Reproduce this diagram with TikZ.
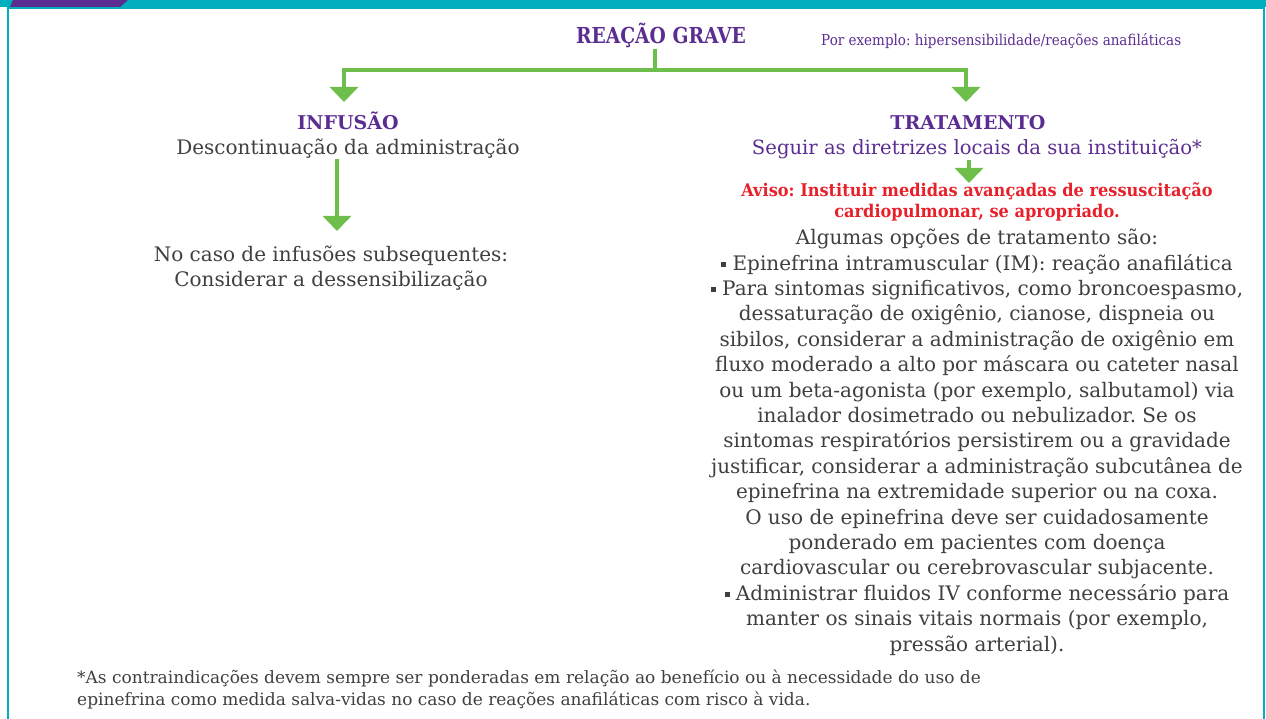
\documentclass[tikz,border=0pt]{standalone}
\usepackage{fontspec}
\usetikzlibrary{arrows.meta}
\setmainfont{DejaVu Serif}
\newfontfamily\condf[FakeStretch=0.85]{DejaVu Serif}
\newfontfamily\exf[FakeStretch=0.9]{DejaVu Serif}
\newfontfamily\warnf[FakeStretch=0.925]{DejaVu Serif}
\definecolor{pur}{HTML}{5C2D91}
\definecolor{tealc}{HTML}{00AFBE}
\definecolor{grn}{HTML}{6DBE4B}
\definecolor{redc}{HTML}{E8202A}
\definecolor{txt}{HTML}{3F3F3F}
\newcommand{\bul}{\raisebox{3.5pt}{\rule{5pt}{5pt}}}
\frenchspacing
\begin{document}
\frenchspacing
\begin{tikzpicture}[x=1pt,y=-1pt,
  conn/.style={draw=grn, line width=3.5pt},
  arr/.style={conn, -{Triangle[width=28pt,length=15pt]}},
  txtnode/.style={inner sep=0pt, anchor=base, align=center},
  maintitle/.style={txtnode, text=pur, font=\condf\bfseries\fontsize{22}{26}\selectfont},
  exnote/.style={txtnode, anchor=base west, text=pur, font=\exf\fontsize{15}{18}\selectfont},
  head/.style={txtnode, text=pur, font=\bfseries\fontsize{19}{22}\selectfont},
  body/.style={txtnode, text=txt, font=\fontsize{20}{25.4}\selectfont},
  purbody/.style={body, text=pur, font=\fontsize{19.6}{24}\selectfont},
  warn/.style={txtnode, text=redc, font=\warnf\bfseries\fontsize{17.5}{21}\selectfont},
  foot/.style={txtnode, anchor=base west, align=left, text=txt, font=\fontsize{17}{22}\selectfont}]
\useasboundingbox (0,0) rectangle (1266,719);
% frame
\fill[tealc] (0,0) rectangle (1266,7);
\fill[pur] (13,0) -- (128,0) -- (120,7) -- (10,7) -- cycle;
\draw[tealc, line width=2pt] (8,720) -- (8,8) -- (1264,8) -- (1264,720);
% texts (multi-line nodes anchored at the baseline of their last line)
\node[maintitle] (grave) at (661,44) {REAÇÃO GRAVE};
\node[exnote] (ex) at (821,46) {Por exemplo: hipersensibilidade/reações anafiláticas};
\node[head] (inf) at (348,130) {INFUSÃO};
\node[body] (desc) at (348,155) {Descontinuação da administração};
\node[body] (subs) at (331,287) {No caso de infusões subsequentes:\\Considerar a dessensibilização};
\node[head] (trat) at (968,130) {TRATAMENTO};
\node[purbody] (seg) at (977,155) {Seguir as diretrizes locais da sua instituição*};
\node[warn] (aviso) at (977,218) {Aviso: Instituir medidas avançadas de ressuscitação\\cardiopulmonar, se apropriado.};
\node[body] (opts) at (977,651) {Algumas opções de tratamento são:\\
\bul{} Epinefrina intramuscular (IM): reação anafilática\\
\bul{} Para sintomas significativos, como broncoespasmo,\\
dessaturação de oxigênio, cianose, dispneia ou\\
sibilos, considerar a administração de oxigênio em\\
fluxo moderado a alto por máscara ou cateter nasal\\
ou um beta-agonista (por exemplo, salbutamol) via\\
inalador dosimetrado ou nebulizador. Se os\\
sintomas respiratórios persistirem ou a gravidade\\
justificar, considerar a administração subcutânea de\\
epinefrina na extremidade superior ou na coxa.\\
O uso de epinefrina deve ser cuidadosamente\\
ponderado em pacientes com doença\\
cardiovascular ou cerebrovascular subjacente.\\
\bul{} Administrar fluidos IV conforme necessário para\\
manter os sinais vitais normais (por exemplo,\\
pressão arterial).};
\node[foot] (fn) at (77,705) {*As contraindicações devem sempre ser ponderadas em relação ao benefício ou à necessidade do uso de\\
epinefrina como medida salva-vidas no caso de reações anafiláticas com risco à vida.};
% connectors
\coordinate (j) at (655,70);
\coordinate (tl) at (344,102);
\coordinate (tr) at (966,102);
\coordinate (ti) at (337,231);
\coordinate (tt) at (969,183);
\draw[conn] (j |- grave.south) -- (j);
\draw[arr] (j) -| (tl);
\draw[arr] (j) -| (tr);
\draw[arr] (ti |- desc.south) -- (ti);
\draw[arr] (tt |- seg.south) -- (tt);
\end{tikzpicture}
\end{document}
